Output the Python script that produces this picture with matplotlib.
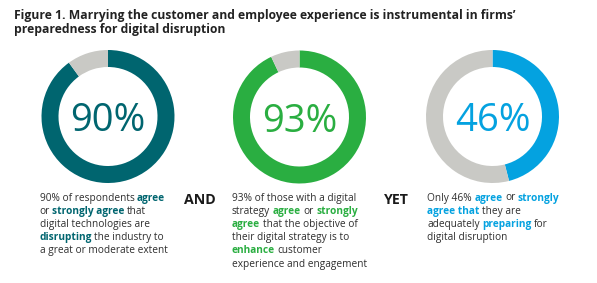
import matplotlib
matplotlib.use("Agg")
import matplotlib.pyplot as plt

W, H = 597, 283
DPI = 100

# ---- data ----
values = [90, 93, 46]
labels = ["90%", "93%", "46%"]
colors = ["#00656F", "#2AAE41", "#04A2E0"]
rest_color = "#C9C9C5"
connectors = ["AND", "YET"]
title_lines = ["Figure 1. Marrying the customer and employee experience is instrumental in firms\u2019",
               "preparedness for digital disruption"]

# each description: list of lines, each line list of (text, bold)
desc = [
    [[("90% of respondents ", False), ("agree", True)],
     [("or ", False), ("strongly agree", True), (" that", False)],
     [("digital technologies are", False)],
     [("disrupting", True), (" the industry to", False)],
     [("a great or moderate extent", False)]],
    [[("93% of those with a digital", False)],
     [("strategy ", False), ("agree", True), (" or ", False), ("strongly", True)],
     [("agree", True), (" that the objective of", False)],
     [("their digital strategy is to", False)],
     [("enhance", True), (" customer", False)],
     [("experience and engagement", False)]],
    [[("Only 46% ", False), ("agree", True), (" or ", False), ("strongly", True)],
     [("agree that", True), (" they are", False)],
     [("adequately ", False), ("preparing", True), (" for", False)],
     [("digital disruption", False)]],
]

# ---- layout (pixels) ----
centers = [(108, 116.5), (299.5, 117), (492.5, 116.5)]
R_OUT = 66.5
RING_W = 17
desc_x = [39.5, 232, 427]
desc_y0 = 200.5
line_h = 13.2
conn_pos = [(184, 204), (383.5, 204)]

FONT = "Open Sans"
TXT = "#2e2e2e"

fig = plt.figure(figsize=(W / DPI, H / DPI), dpi=DPI)
fig.patch.set_facecolor("white")

def fx(x):
    return x / W

def fy(y):
    return 1 - y / H

# donuts
for (cx, cy), v, c, lab in zip(centers, values, colors, labels):
    ax = fig.add_axes([fx(cx - R_OUT), fy(cy + R_OUT), 2 * R_OUT / W, 2 * R_OUT / H])
    ax.pie([v, 100 - v], colors=[c, rest_color], startangle=90, counterclock=False,
           radius=1.0, wedgeprops=dict(width=RING_W / R_OUT, linewidth=0))
    ax.set_xlim(-1, 1)
    ax.set_ylim(-1, 1)
    ax.set_aspect("equal")
    ax.axis("off")
    fig.text(fx(cx), fy(cy + 14.5), lab, ha="center", va="baseline",
             fontsize=27.5, color=c, family=FONT, fontweight="normal")

# title
for i, line in enumerate(title_lines):
    fig.text(fx(14), fy(19.5 + i * 13.6), line, ha="left", va="baseline",
             fontsize=8.7, fontweight="bold", color="#222222", family=FONT)

# connectors
for (x, y), s in zip(conn_pos, connectors):
    fig.text(fx(x), fy(y), s, ha="left", va="baseline", fontsize=10.2,
             fontweight="bold", color="#1a1a1a", family=FONT)

renderer = fig.canvas.get_renderer()
BODY_FS = 7.3

def text_width(s, bold):
    t = fig.text(0, 0, s, fontsize=BODY_FS, family=FONT,
                 fontweight="bold" if bold else "normal")
    w = t.get_window_extent(renderer).width
    t.remove()
    return w

base_w = {b: text_width("ll", b) for b in (False, True)}

def advance(s, bold):
    return text_width("l" + s + "l", bold) - base_w[bold]

for col, lines in enumerate(desc):
    for li, segs in enumerate(lines):
        x = desc_x[col]
        y = desc_y0 + li * line_h
        for s, bold in segs:
            lead = s[:len(s) - len(s.lstrip(" "))]
            core = s.strip(" ")
            x += advance(lead, bold) if lead else 0
            fig.text(fx(x), fy(y), core, ha="left", va="baseline", fontsize=BODY_FS,
                     family=FONT, fontweight="bold" if bold else "normal",
                     color=colors[col] if bold else TXT)
            x += advance(s.lstrip(" "), bold)

fig.savefig("out.png", dpi=DPI, facecolor="white")
